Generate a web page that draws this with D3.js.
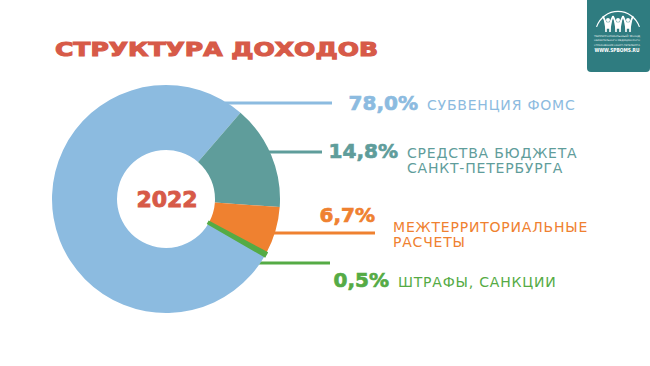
<!DOCTYPE html>
<html>
<head>
<meta charset="utf-8">
<script src="https://cdn.jsdelivr.net/npm/d3@7"></script>
<style>
  body { margin: 0; background: #fff; }
  svg { display: block; font-family: "DejaVu Sans", sans-serif; }
</style>
</head>
<body>
<div id="chart"></div>
<script>
// data
const categories = ['СУБВЕНЦИЯ ФОМС', 'СРЕДСТВА БЮДЖЕТА\nСАНКТ-ПЕТЕРБУРГА', 'МЕЖТЕРРИТОРИАЛЬНЫЕ\nРАСЧЕТЫ', 'ШТРАФЫ, САНКЦИИ'];
const shares = [78.0, 14.8, 6.7, 0.5];
const colors = ['#8cbbe0', '#5f9d9b', '#ef8130', '#55ab45'];
const yearLabel = '2022';
const title = 'СТРУКТУРА ДОХОДОВ';

const width = 650, height = 366;
const cx = 166, cy = 199, outerR = 114, innerR = 49;

// label layout (leader line y, line end x, text x, percent baseline, text baseline)
const layout = [
    {lineY: 103, lineEnd: 332, textX: 427, pctY: 110, txtY: 110},
    {lineY: 152, lineEnd: 322, textX: 407, pctY: 158, txtY: 158},
    {lineY: 233, lineEnd: 375, textX: 393, pctY: 222, txtY: 232, pctEnd: 375},
    {lineY: 263, lineEnd: 330, textX: 398, pctY: 287, txtY: 287}
];

const svg = d3.select('#chart').append('svg')
    .attr('width', width)
    .attr('height', height);

// title
svg.append('text')
    .attr('x', 55)
    .attr('y', 56)
    .attr('font-size', 20)
    .attr('font-weight', 'bold')
    .attr('fill', '#d75a48')
    .attr('stroke', '#d75a48')
    .attr('stroke-width', 1.1)
    .attr('textLength', 323)
    .attr('lengthAdjust', 'spacingAndGlyphs')
    .text(title);

// leader lines (drawn under the donut)
svg.selectAll('.leader').data(layout)
    .enter()
    .append('line')
    .attr('class', 'leader')
    .attr('x1', d => cx + Math.sqrt(outerR * outerR - (d.lineY - cy) * (d.lineY - cy)) - 3)
    .attr('x2', d => d.lineEnd)
    .attr('y1', d => d.lineY)
    .attr('y2', d => d.lineY)
    .attr('stroke', (d, i) => colors[i])
    .attr('stroke-width', 3);

// donut
const a0 = 120 * Math.PI / 180;
const pie = d3.pie().sort(null).startAngle(a0).endAngle(a0 + 2 * Math.PI);
const arc = d3.arc().innerRadius(innerR).outerRadius(outerR);

svg.append('g')
    .attr('transform', `translate(${cx},${cy})`)
    .selectAll('path')
    .data(pie(shares))
    .enter()
    .append('path')
    .attr('d', arc)
    .attr('fill', (d, i) => colors[i])
    // thin slice gets an outline so it stays visible
    .attr('stroke', (d, i) => shares[i] < 1 ? colors[i] : 'none')
    .attr('stroke-width', 2.5);

svg.append('text')
    .attr('x', cx + 1)
    .attr('y', cy + 8)
    .attr('text-anchor', 'middle')
    .attr('font-size', 22)
    .attr('font-weight', 'bold')
    .attr('fill', '#d75a48')
    .attr('stroke', '#d75a48')
    .attr('stroke-width', 0.9)
    .text(yearLabel);

// labels
const fmt = v => d3.format('.1f')(v).replace('.', ',') + '%';

const labels = svg.selectAll('.label').data(layout)
    .enter()
    .append('g')
    .attr('class', 'label');

labels.append('text')
    .attr('x', d => d.pctEnd ? d.pctEnd : d.textX - 9)
    .attr('y', d => d.pctY)
    .attr('text-anchor', 'end')
    .attr('font-size', 20)
    .attr('font-weight', 'bold')
    .attr('fill', (d, i) => colors[i])
    .attr('stroke', (d, i) => colors[i])
    .attr('stroke-width', 0.7)
    .text((d, i) => fmt(shares[i]));

labels.each(function (d, i) {
    const lines = categories[i].split('\n');
    d3.select(this).selectAll('.cat').data(lines)
        .enter()
        .append('text')
        .attr('class', 'cat')
        .attr('x', d.textX)
        .attr('y', (l, j) => d.txtY + j * 15)
        .attr('font-size', 14)
        .attr('letter-spacing', 0.8)
        .attr('fill', colors[i])
        .text(l => l);
});

// logo
const logo = svg.append('g');
logo.append('rect')
    .attr('x', 587).attr('y', -6)
    .attr('width', 63).attr('height', 78)
    .attr('rx', 4)
    .attr('fill', '#2f7c80');
logo.append('path')
    .attr('d', d3.arc()({innerRadius: 22, outerRadius: 23.2, startAngle: -1.25, endAngle: 1.25}))
    .attr('transform', 'translate(618,34)')
    .attr('fill', '#fff');
[608, 618, 628].forEach(x => {
    logo.append('circle').attr('cx', x).attr('cy', 20).attr('r', 2).attr('fill', '#fff');
    logo.append('path')
        .attr('d', `M${x - 5},16 L${x - 2},23 L${x - 2},32 M${x + 5},16 L${x + 2},23 L${x + 2},32 M${x - 2},23 L${x + 2},23 L${x + 2},28 L${x - 2},28 Z`)
        .attr('stroke', '#fff').attr('stroke-width', 1.6).attr('fill', '#fff');
});
['ТЕРРИТОРИАЛЬНЫЙ  ФОНД', 'ОБЯЗАТЕЛЬНОГО МЕДИЦИНСКОГО', 'СТРАХОВАНИЯ САНКТ-ПЕТЕРБУРГА'].forEach((t, j) => {
    logo.append('text')
        .attr('x', 617).attr('y', 37 + j * 4.3)
        .attr('text-anchor', 'middle')
        .attr('font-size', 2.5)
        .attr('fill', '#e6f0f0')
        .attr('textLength', 46)
        .attr('lengthAdjust', 'spacingAndGlyphs')
        .text(t);
});
logo.append('text')
    .attr('x', 617).attr('y', 52)
    .attr('text-anchor', 'middle')
    .attr('font-size', 5.5)
    .attr('font-weight', 'bold')
    .attr('fill', '#fff')
    .attr('textLength', 45)
    .attr('lengthAdjust', 'spacingAndGlyphs')
    .text('WWW.SPBOMS.RU');
</script>
</body>
</html>
